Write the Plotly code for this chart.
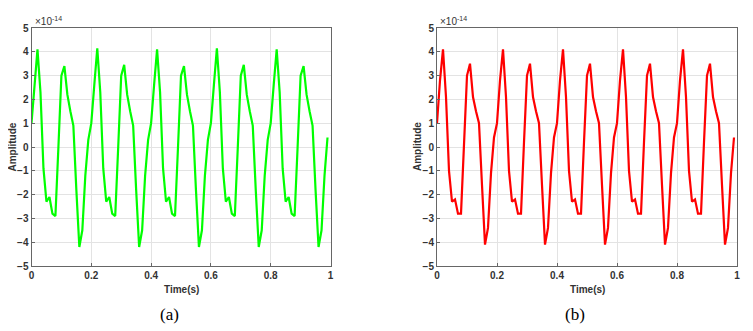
"""两路信号波形对比图"""

import plotly.graph_objects as go
from plotly.subplots import make_subplots

# 时间轴 (s)
time_s = [i / 100 for i in range(100)]

# (a) 绿色信号, 单位 1e-14
amp_a = [
    1.0, 2.6, 4.1, 2.3, -0.9, -2.3, -2.1, -2.8, -2.9, 0.0,
    3.0, 3.4, 2.2, 1.5, 0.9, -1.8, -4.2, -3.5, -1.2, 0.3,
    1.0, 2.6, 4.15, 2.3, -0.9, -2.3, -2.1, -2.8, -2.9, 0.0,
    3.0, 3.45, 2.2, 1.5, 0.9, -1.8, -4.2, -3.5, -1.2, 0.3,
    1.0, 2.6, 4.1, 2.3, -0.9, -2.3, -2.1, -2.8, -2.9, 0.0,
    3.0, 3.4, 2.2, 1.5, 0.9, -1.8, -4.2, -3.5, -1.2, 0.3,
    1.0, 2.6, 4.15, 2.3, -0.9, -2.3, -2.1, -2.8, -2.9, 0.0,
    3.0, 3.45, 2.2, 1.5, 0.9, -1.8, -4.2, -3.5, -1.2, 0.3,
    1.0, 2.6, 4.1, 2.3, -0.9, -2.3, -2.1, -2.8, -2.9, 0.0,
    3.0, 3.4, 2.2, 1.5, 0.9, -1.8, -4.2, -3.5, -1.2, 0.4,
]

# (b) 红色信号, 单位 1e-14
amp_b = [
    1.0, 2.8, 4.1, 2.1, -1.0, -2.3, -2.2, -2.8, -2.8, 0.2,
    3.0, 3.5, 2.1, 1.5, 1.0, -1.6, -4.1, -3.4, -1.1, 0.4,
    1.0, 2.8, 4.1, 2.1, -1.0, -2.3, -2.2, -2.8, -2.8, 0.2,
    3.0, 3.5, 2.1, 1.5, 1.0, -1.6, -4.1, -3.4, -1.1, 0.4,
    1.0, 2.8, 4.1, 2.1, -1.0, -2.3, -2.2, -2.8, -2.8, 0.2,
    3.0, 3.5, 2.1, 1.5, 1.0, -1.6, -4.1, -3.4, -1.1, 0.4,
    1.0, 2.8, 4.1, 2.1, -1.0, -2.3, -2.2, -2.8, -2.8, 0.2,
    3.0, 3.5, 2.1, 1.5, 1.0, -1.6, -4.1, -3.4, -1.1, 0.4,
    1.0, 2.8, 4.1, 2.1, -1.0, -2.3, -2.2, -2.8, -2.8, 0.2,
    3.0, 3.5, 2.1, 1.5, 1.0, -1.6, -4.1, -3.4, -1.1, 0.4,
]

x_ticks = [0, 0.2, 0.4, 0.6, 0.8, 1]
x_tick_text = ["0", "0.2", "0.4", "0.6", "0.8", "1"]
y_ticks = [-5, -4, -3, -2, -1, 0, 1, 2, 3, 4, 5]

# 页面 body 默认留 8px 边距, 画布按此缩小
PAD = 8
W, H = 753 - PAD, 331 - PAD


def px(x):
    return (x - PAD) / W


def py(y):
    return 1 - (y - PAD) / H


ax_left = [(31.5, 330.5), (437, 737)]
ax_top, ax_bottom = 28, 266

fig = make_subplots(rows=1, cols=2)

fig.add_trace(go.Scatter(
    x=time_s, y=amp_a, mode="lines",
    line=dict(color="#00ff00", width=2.2), showlegend=False,
), row=1, col=1)
fig.add_trace(go.Scatter(
    x=time_s, y=amp_b, mode="lines",
    line=dict(color="#ff0000", width=2.2), showlegend=False,
), row=1, col=2)

tick_font = dict(family="Liberation Sans", size=10, color="#333333", weight="bold")
y_dom = [py(ax_bottom), py(ax_top)]

for i, (x0, x1) in enumerate(ax_left):
    n = "" if i == 0 else "2"
    fig.layout["xaxis" + n].update(
        domain=[px(x0), px(x1)], range=[0, 1], automargin=False,
        tickvals=x_ticks, ticktext=x_tick_text, tickfont=tick_font,
        showgrid=True, gridcolor="#e3e3e3", zeroline=False,
        showline=True, linecolor="#666666", linewidth=1, mirror=True,
        ticks="inside", ticklen=3, tickcolor="#666666",
    )
    fig.layout["yaxis" + n].update(
        domain=y_dom, range=[-5, 5], automargin=False,
        tickvals=y_ticks, tickfont=tick_font,
        showgrid=True, gridcolor="#e3e3e3", zeroline=False,
        showline=True, linecolor="#666666", linewidth=1, mirror=True,
        ticks="inside", ticklen=3, tickcolor="#666666",
    )
    cx = (x0 + x1) / 2
    # 指数标注、坐标轴标题、子图编号
    fig.add_annotation(
        x=px(x0 + 1), y=py(21), xref="paper", yref="paper",
        text="×10<sup>-14</sup>", showarrow=False, xanchor="left", yanchor="middle",
        font=dict(family="Liberation Sans", size=10, color="#333333"),
    )
    fig.add_annotation(
        x=px(x0 - 20), y=py(147), xref="paper", yref="paper",
        text="Amplitude", showarrow=False, textangle=-90,
        xanchor="center", yanchor="middle",
        font=dict(family="Liberation Sans", size=10, color="#333333", weight="bold"),
    )
    fig.add_annotation(
        x=px(cx), y=py(289), xref="paper", yref="paper",
        text="Time(s)", showarrow=False, xanchor="center", yanchor="middle",
        font=dict(family="Liberation Sans", size=10, color="#333333", weight="bold"),
    )
    fig.add_annotation(
        x=px(cx - 12), y=py(314), xref="paper", yref="paper",
        text="(a)" if i == 0 else "(b)", showarrow=False,
        xanchor="center", yanchor="middle",
        font=dict(family="Liberation Serif", size=17, color="#000000"),
    )

fig.update_layout(
    width=W, height=H,
    margin=dict(l=0, r=0, t=0, b=0),
    paper_bgcolor="white", plot_bgcolor="white",
)

fig.write_html("out.html")
